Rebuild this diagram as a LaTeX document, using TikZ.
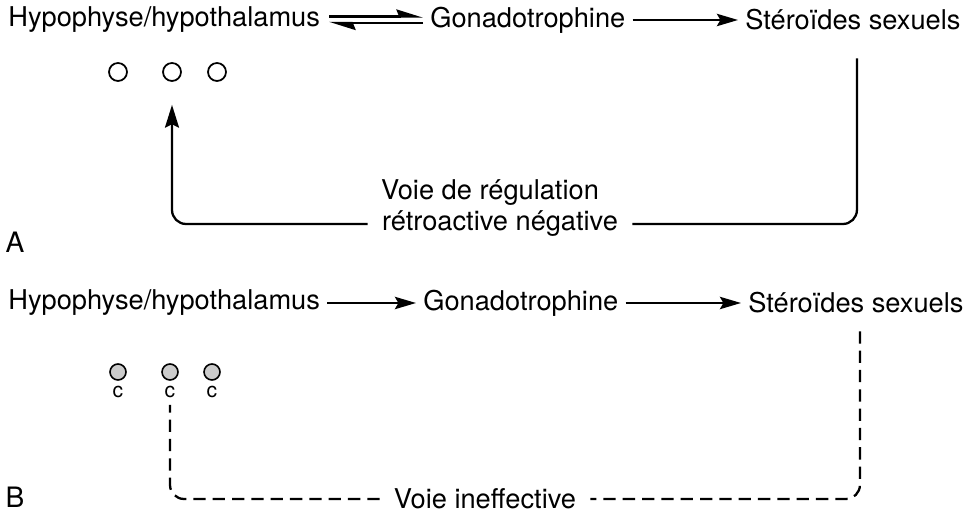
\documentclass[tikz,border=0pt]{standalone}
\usepackage{fontspec}
\setmainfont{TeX Gyre Heros}
\usetikzlibrary{arrows.meta,positioning}
\tikzset{
    hormone/.style={font=\fontsize{15.5}{18.6}\selectfont, inner xsep=4pt,
    inner ysep=2pt, anchor=west},
    pathtext/.style={font=\fontsize{15.5}{18.6}\selectfont, inner xsep=8pt, inner ysep=1pt},
    panel/.style={font=\fontsize{16}{19}\selectfont, inner sep=0pt},
    flow/.style={line width=1.3pt, -{Stealth[length=12pt,width=7pt,inset=2pt]}},
    harp/.style={line width=1.3pt, -{Stealth[harpoon,length=13pt,width=8pt,inset=1.5pt]}},
    loopline/.style={line width=1.3pt, rounded corners=8pt},
    cellopen/.style={circle, draw, line width=1pt, minimum size=0.36cm, inner sep=0pt},
    cellfull/.style={circle, draw, line width=0.9pt, fill=gray!40, minimum size=0.32cm, inner sep=0pt},
    cellmark/.style={font=\fontsize{12}{14}\selectfont, inner sep=1pt},
}
\begin{document}
\begin{tikzpicture}[x=0.02cm, y=-0.02cm]
            \useasboundingbox (0,0) rectangle (966,516);
            % --- A: intact axis ---
            \node[hormone] (hA) at (1,20) {Hypophyse/hypothalamus};
            \node[hormone] (gA) at (423,20) {Gonadotrophine};
            \node[hormone] (sA) at (738,20) {Stéroïdes sexuels};
            \draw[harp, shorten <=1pt] ([yshift=0.07cm]hA.east) -- ([yshift=0.07cm]gA.west);
            \draw[harp, shorten >=1pt] ([yshift=-0.06cm]gA.west) -- ([yshift=-0.06cm]hA.east);
            \draw[flow] (gA.east) -- (sA.west);
            \node[cellopen] (cA1) at (118,72) {};
            \node[cellopen] (cA2) at (172,72) {};
            \node[cellopen] (cA3) at (217,72) {};
            \node[pathtext] (fbA1) at (490,193) {Voie de régulation};
            \node[pathtext] (fbA2) at (500,224) {rétroactive négative};
            \draw[loopline, shorten <=0.48cm] ([xshift=0.08cm]sA.south) |- (fbA2.east);
            \draw[loopline, -{Stealth[length=13pt,width=8pt,inset=2pt]}, shorten >=0.46cm]
                (fbA2.west) -| (cA2.south);
            \node[panel] (labA) at (15,242) {A};
            % --- B: ineffective feedback ---
            \node[hormone] (hB) at (1,303) {Hypophyse/hypothalamus};
            \node[hormone] (gB) at (416,303) {Gonadotrophine};
            \node[hormone] (sB) at (741,303) {Stéroïdes sexuels};
            \draw[flow] (hB.east) -- (gB.west);
            \draw[flow] (gB.east) -- (sB.west);
            \node[cellfull] (cB1) at (118,372) {};
            \node[cellfull] (cB2) at (170,372) {};
            \node[cellfull] (cB3) at (212,372) {};
            \node[cellmark] (mB1) at (118,392) {c};
            \node[cellmark] (mB2) at (170,392) {c};
            \node[cellmark] (mB3) at (212,392) {c};
            \node[pathtext] (fbB) at (485,499) {Voie ineffective};
            \draw[loopline, dash pattern=on 7pt off 4pt, shorten <=0.28cm]
                ([xshift=0.08cm]sB.south) |- (fbB.east);
            \draw[loopline, dash pattern=on 7pt off 4pt, shorten >=0.1cm]
                (fbB.west) -| (mB2.south);
            \node[panel] (labB) at (15,497) {B};
\end{tikzpicture}
\end{document}
